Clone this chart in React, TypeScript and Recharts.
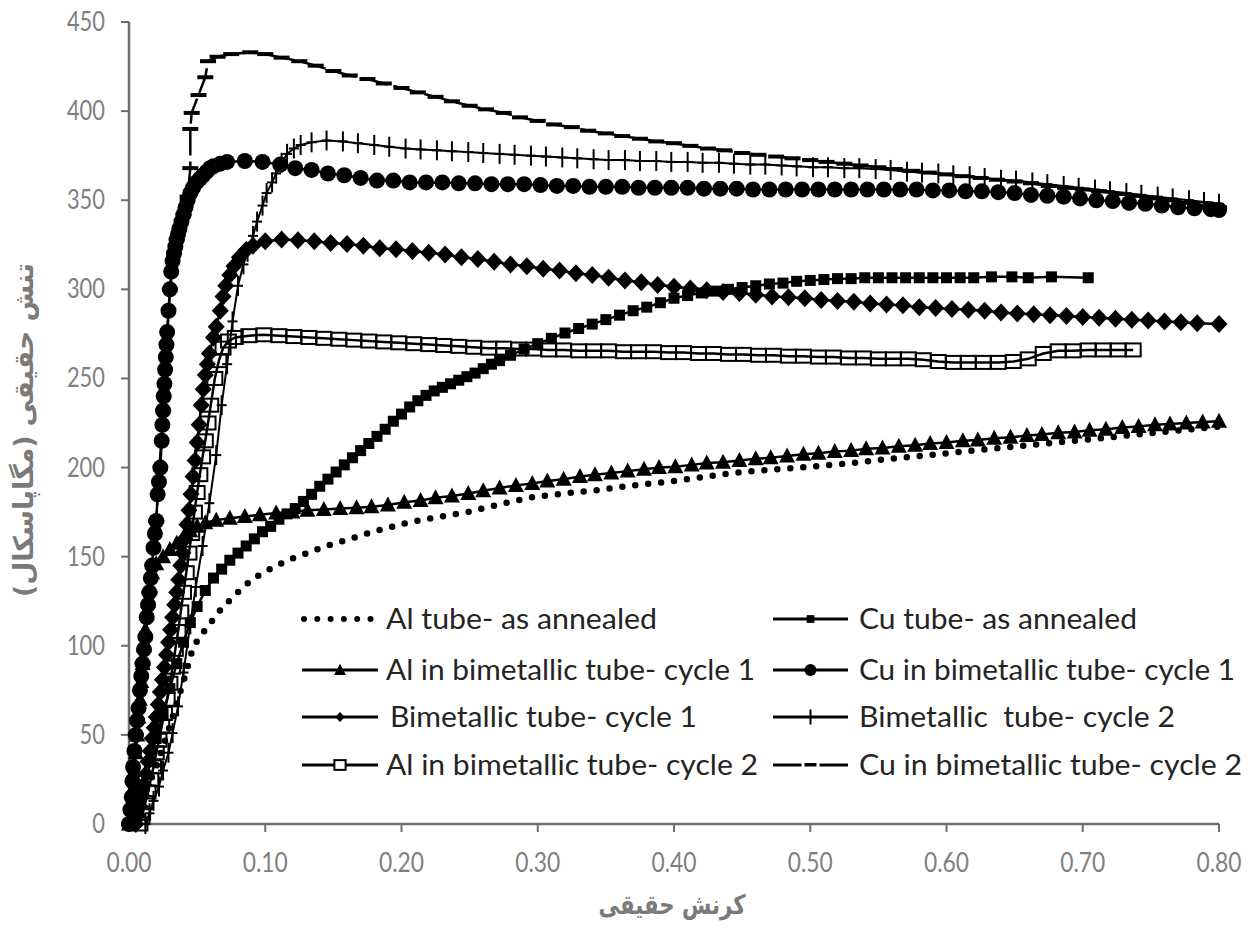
import React from 'react';
import { LineChart, Line, XAxis, YAxis, Legend } from 'recharts';

// ---------- data ----------
const strainTicks = [0, 0.1, 0.2, 0.3, 0.4, 0.5, 0.6, 0.7, 0.8];
const stressTicks = [0, 50, 100, 150, 200, 250, 300, 350, 400, 450];

const xTitle = 'کرنش حقیقی';
const yTitle = 'تنش حقیقی (مگاپاسکال)\u200F';

const seriesNames = [
  'Al tube- as annealed',
  'Cu tube- as annealed',
  'Al in bimetallic tube- cycle 1',
  'Cu in bimetallic tube- cycle 1',
  'Bimetallic tube- cycle 1',
  'Bimetallic  tube- cycle 2',
  'Al in bimetallic tube- cycle 2',
  'Cu in bimetallic tube- cycle 2',
];

const alTubeAnnealed = [
  [0, 0], [0.01, 14], [0.02, 32], [0.03, 55], [0.04, 80], [0.047, 99], [0.052, 105], [0.06, 113],
  [0.067, 120], [0.077, 128], [0.087, 135], [0.096, 140], [0.106, 144], [0.118, 148.5], [0.131, 152],
  [0.145, 156], [0.16, 159.5], [0.175, 163], [0.189, 166], [0.204, 169], [0.225, 172], [0.248, 175],
  [0.27, 179], [0.297, 183.5], [0.32, 185.5], [0.346, 187.5], [0.37, 190], [0.395, 192], [0.42, 194.5],
  [0.443, 197], [0.467, 198.5], [0.492, 200], [0.524, 202], [0.56, 205], [0.6, 208], [0.64, 211],
  [0.68, 214], [0.72, 217], [0.76, 220], [0.8, 223],
];

const cuTubeAnnealed = [
  [0, 0], [0.005, 10], [0.01, 22], [0.015, 35], [0.02, 48], [0.025, 62], [0.03, 76], [0.035, 90],
  [0.04, 102], [0.045, 113], [0.05, 122], [0.056, 131], [0.062, 138], [0.068, 143], [0.074, 148],
  [0.08, 152], [0.086, 156], [0.092, 160], [0.098, 164], [0.104, 167], [0.11, 171], [0.116, 174],
  [0.122, 177], [0.128, 181], [0.134, 185], [0.14, 189.5], [0.146, 193.5], [0.152, 197.5], [0.158, 201.5],
  [0.164, 205.5], [0.17, 209.5], [0.176, 213.5], [0.182, 217.5], [0.188, 221.5], [0.194, 226], [0.2, 230],
  [0.206, 234], [0.212, 237.5], [0.218, 240.5], [0.224, 243], [0.23, 245], [0.236, 247], [0.242, 249],
  [0.248, 251], [0.254, 253], [0.26, 255.5], [0.266, 258], [0.272, 260], [0.28, 263], [0.29, 266.5],
  [0.3, 269.5], [0.31, 272.5], [0.32, 275.5], [0.33, 278], [0.34, 280.5], [0.35, 283], [0.36, 285.5],
  [0.37, 288], [0.38, 290], [0.39, 292.5], [0.4, 295], [0.41, 296.5], [0.42, 298], [0.43, 299],
  [0.44, 300], [0.45, 301], [0.46, 302], [0.47, 303], [0.48, 303.5], [0.49, 304.5], [0.5, 305],
  [0.51, 305.5], [0.52, 306], [0.53, 306], [0.54, 306.5], [0.55, 306.5], [0.56, 306.5], [0.57, 306.5],
  [0.58, 306.5], [0.59, 306.5], [0.6, 306.5], [0.61, 306.5], [0.62, 306.5], [0.633, 307], [0.648, 307],
  [0.66, 306.5], [0.677, 307], [0.704, 306.5],
];

const alBimCycle1 = [
  [0, 0], [0.002, 10], [0.003, 20], [0.004, 30], [0.005, 40], [0.006, 50], [0.007, 60], [0.008, 70],
  [0.009, 80], [0.01, 90], [0.011, 100], [0.012, 109], [0.013, 118], [0.014, 125], [0.015, 132],
  [0.017, 141], [0.02, 146], [0.025, 150], [0.03, 154], [0.035, 157.5], [0.04, 161], [0.045, 164.5],
  [0.05, 167], [0.056, 169], [0.064, 170.5], [0.074, 171.5], [0.085, 172.5], [0.096, 173.5],
  [0.108, 174.5], [0.12, 175], [0.131, 176], [0.143, 176.5], [0.155, 177], [0.167, 177.5], [0.178, 178],
  [0.19, 179], [0.202, 180.5], [0.214, 181.5], [0.225, 183], [0.237, 184], [0.249, 185.5], [0.26, 187],
  [0.272, 188.5], [0.284, 190], [0.296, 191], [0.307, 192.5], [0.319, 193.5], [0.331, 195], [0.342, 196],
  [0.354, 197], [0.366, 198], [0.378, 199], [0.389, 200], [0.401, 200.5], [0.413, 201.5], [0.424, 202.5],
  [0.436, 203], [0.448, 204], [0.46, 205], [0.471, 205.5], [0.483, 206.5], [0.495, 207.5], [0.506, 208],
  [0.518, 209], [0.53, 209.5], [0.541, 210.5], [0.553, 211], [0.565, 212], [0.577, 212.5], [0.588, 213.5],
  [0.6, 214], [0.612, 215], [0.623, 215.5], [0.635, 216.5], [0.647, 217], [0.659, 218], [0.67, 218.5],
  [0.682, 219.5], [0.694, 220], [0.705, 221], [0.717, 221.5], [0.729, 222.5], [0.741, 223], [0.753, 224],
  [0.764, 224.5], [0.776, 225], [0.788, 225.5], [0.8, 226],
];

const cuBimCycle1 = [
  [0, 0], [0.001, 8], [0.002, 15], [0.0025, 24], [0.003, 32], [0.004, 41], [0.005, 50], [0.006, 58],
  [0.007, 65], [0.008, 75], [0.009, 83], [0.01, 90], [0.011, 98], [0.012, 105], [0.013, 116], [0.014, 123],
  [0.015, 130], [0.016, 138], [0.017, 145], [0.018, 155], [0.019, 163], [0.02, 170], [0.021, 185],
  [0.022, 192], [0.023, 200], [0.024, 215], [0.0245, 224], [0.025, 232], [0.0255, 240], [0.026, 247],
  [0.0265, 255], [0.027, 262], [0.0275, 269], [0.028, 276], [0.029, 288], [0.03, 300], [0.031, 310],
  [0.032, 316], [0.033, 320], [0.034, 324], [0.035, 328], [0.036, 331], [0.037, 334], [0.0385, 338],
  [0.04, 342], [0.0415, 346], [0.043, 350], [0.045, 354], [0.047, 357], [0.0495, 360], [0.052, 362],
  [0.0545, 364], [0.057, 366], [0.0595, 368], [0.062, 369], [0.067, 370.5], [0.072, 371.5], [0.085, 372],
  [0.098, 371.5], [0.111, 370],
  [0.122, 368], [0.134, 367], [0.146, 365], [0.158, 364], [0.17, 362.5], [0.182, 361], [0.194, 361],
  [0.206, 360], [0.218, 360], [0.23, 360], [0.242, 359.5], [0.254, 359.5], [0.266, 359], [0.278, 359],
  [0.29, 359], [0.302, 358.5], [0.314, 358], [0.326, 358], [0.338, 357.5], [0.35, 357.5], [0.362, 357.5],
  [0.374, 357], [0.386, 357], [0.398, 357], [0.41, 357], [0.422, 356.5], [0.434, 356.5], [0.446, 356.5],
  [0.458, 356], [0.47, 356], [0.482, 356], [0.494, 356], [0.506, 356], [0.518, 356], [0.53, 356],
  [0.542, 356], [0.554, 356], [0.566, 356], [0.578, 356], [0.59, 355.5], [0.602, 355.5], [0.614, 355],
  [0.626, 355], [0.638, 354.5], [0.65, 354], [0.662, 353], [0.674, 352.5], [0.686, 352], [0.698, 351],
  [0.71, 350], [0.722, 349.5], [0.734, 348.5], [0.746, 348], [0.758, 347], [0.77, 346], [0.782, 345.5],
  [0.794, 345], [0.8, 344.5],
];

const bimCycle1 = [
  [0.005, 0], [0.0065, 5], [0.008, 10], [0.0095, 16], [0.011, 22], [0.0125, 28], [0.014, 35], [0.0155, 41],
  [0.017, 48], [0.0185, 54], [0.02, 60], [0.0215, 67], [0.023, 74], [0.0245, 81], [0.026, 88], [0.0275, 95],
  [0.029, 102], [0.0305, 109], [0.032, 116], [0.0335, 123], [0.035, 130], [0.0365, 137], [0.038, 145],
  [0.0395, 152], [0.041, 160], [0.0425, 168], [0.044, 176], [0.0455, 185], [0.047, 195], [0.0485, 204],
  [0.05, 214], [0.0515, 224], [0.053, 235], [0.0545, 244], [0.056, 252], [0.0575, 258], [0.059, 264],
  [0.062, 273], [0.064, 279], [0.067, 288], [0.069, 296], [0.071, 302], [0.074, 308], [0.077, 313],
  [0.081, 318], [0.086, 322], [0.091, 324.5],
  [0.1, 327], [0.112, 328], [0.124, 327.5], [0.136, 327], [0.148, 326], [0.16, 325.5], [0.172, 324.5],
  [0.184, 323], [0.196, 322.5], [0.208, 321.5], [0.22, 320.5], [0.232, 319.5], [0.244, 318], [0.256, 317],
  [0.268, 315.5], [0.28, 314], [0.292, 313], [0.304, 311.5], [0.316, 310.5], [0.328, 309], [0.34, 308],
  [0.352, 306.5], [0.364, 305], [0.376, 304], [0.388, 302.5], [0.4, 301.5], [0.412, 300.5], [0.424, 299.5],
  [0.436, 298.5], [0.448, 298], [0.46, 297], [0.472, 296], [0.484, 295.5], [0.496, 295], [0.508, 294],
  [0.52, 293.5], [0.532, 293], [0.544, 292], [0.556, 291.5], [0.568, 291], [0.58, 290], [0.592, 289.5],
  [0.604, 289], [0.616, 288.5], [0.628, 288], [0.64, 287], [0.652, 286.5], [0.664, 286], [0.676, 285.5],
  [0.688, 285], [0.7, 284.5], [0.712, 284], [0.724, 283.5], [0.736, 283], [0.748, 282.5], [0.76, 282],
  [0.772, 281.5], [0.784, 281], [0.8, 280.5],
];

const bimCycle2 = [
  [0.012, 0], [0.015, 6], [0.018, 13], [0.022, 21], [0.025, 30], [0.029, 40], [0.032, 51], [0.036, 66],
  [0.04, 85], [0.045, 112], [0.049, 133], [0.054, 156], [0.059, 180], [0.064, 207], [0.068, 235],
  [0.072, 258], [0.076, 282], [0.08, 302], [0.084, 314], [0.087, 321], [0.091, 330], [0.094, 338],
  [0.098, 347], [0.101, 354], [0.105, 360], [0.108, 365], [0.112, 371], [0.116, 376], [0.121, 379],
  [0.126, 381], [0.134, 382.5], [0.145, 383.5], [0.157, 383], [0.168, 382], [0.18, 381], [0.191, 380],
  [0.203, 379], [0.214, 378.5], [0.226, 378], [0.237, 377.5], [0.249, 377], [0.26, 376.5], [0.272, 376],
  [0.283, 375.5], [0.295, 375], [0.306, 374.5], [0.318, 374], [0.329, 373.5], [0.341, 373], [0.352, 372.5],
  [0.364, 372.5], [0.375, 372], [0.387, 372], [0.398, 371.5], [0.41, 371.5], [0.421, 371], [0.433, 371],
  [0.444, 370.5], [0.456, 370], [0.467, 370], [0.479, 369.5], [0.49, 369], [0.502, 368.5], [0.513, 368.5],
  [0.525, 368], [0.536, 368], [0.548, 367.5], [0.559, 367], [0.571, 366], [0.582, 365.5], [0.594, 365],
  [0.605, 364], [0.617, 363.5], [0.628, 362.5], [0.64, 361.5], [0.651, 361], [0.663, 360], [0.674, 359],
  [0.686, 358], [0.697, 357], [0.709, 356], [0.72, 355], [0.732, 354], [0.743, 353], [0.755, 352],
  [0.766, 351], [0.778, 350], [0.789, 349], [0.8, 348],
];

const alBimCycle2 = [
  [0.008, 0], [0.01, 6], [0.012, 12], [0.014, 18], [0.016, 25], [0.018, 32], [0.02, 40], [0.022, 47],
  [0.024, 55], [0.026, 62], [0.028, 70], [0.03, 79], [0.032, 88], [0.034, 98], [0.036, 108], [0.038, 119],
  [0.04, 130], [0.042, 141], [0.044, 152], [0.046, 163], [0.048, 175], [0.05, 186], [0.052, 196],
  [0.054, 206], [0.056, 215], [0.058, 225], [0.06, 235], [0.063, 250],
  [0.066, 260], [0.069, 267], [0.073, 271], [0.078, 273], [0.088, 274], [0.099, 274.5], [0.11, 274],
  [0.121, 273.5], [0.132, 273], [0.143, 272.5], [0.154, 272], [0.165, 271.5], [0.176, 271], [0.187, 270.5],
  [0.198, 270], [0.209, 269.5], [0.22, 269], [0.231, 268.5], [0.242, 268], [0.253, 267.5], [0.264, 267],
  [0.275, 267], [0.286, 266.5], [0.297, 266.5], [0.308, 266], [0.319, 266], [0.33, 265.5], [0.341, 265.5],
  [0.352, 265.5], [0.363, 265], [0.374, 265], [0.385, 265], [0.396, 264.5], [0.407, 264.5], [0.418, 264],
  [0.429, 264], [0.44, 263.5], [0.451, 263.5], [0.462, 263], [0.473, 263], [0.484, 262.5], [0.495, 262.5],
  [0.506, 262], [0.517, 262], [0.528, 261.5], [0.539, 261.5], [0.55, 261], [0.561, 261], [0.572, 261],
  [0.583, 260.5], [0.594, 259.5], [0.605, 259], [0.616, 259], [0.627, 259], [0.638, 259], [0.649, 259.5],
  [0.66, 261], [0.671, 264], [0.682, 265.5], [0.693, 265.5], [0.704, 266], [0.715, 266], [0.726, 266],
  [0.737, 266],
];

const cuBimCycle2 = [
  [0, 0], [0.005, 50], [0.01, 90], [0.015, 130], [0.02, 170], [0.025, 232], [0.03, 300], [0.035, 328],
  [0.04, 342], [0.043, 352], [0.045, 368], [0.045, 390], [0.046, 399], [0.051, 409], [0.056, 419],
  [0.058, 428], [0.065, 430.5], [0.075, 432], [0.089, 433], [0.1, 432], [0.112, 430], [0.125, 428],
  [0.137, 425.5], [0.15, 422.5], [0.162, 420], [0.175, 418], [0.187, 415.5], [0.2, 413], [0.212, 410.5],
  [0.225, 408], [0.237, 405.5], [0.25, 403], [0.262, 401], [0.275, 399], [0.287, 396.5], [0.3, 394.5],
  [0.312, 392.5], [0.325, 391], [0.337, 389], [0.35, 387.5], [0.362, 386], [0.375, 384.5], [0.387, 383],
  [0.4, 382], [0.412, 380.5], [0.425, 379], [0.437, 378], [0.45, 376.5], [0.462, 375.5], [0.475, 374.5],
  [0.487, 373.5], [0.5, 372.5], [0.512, 371.5], [0.525, 370.5], [0.537, 369.5], [0.55, 368.5], [0.562, 367.5],
  [0.575, 366.5], [0.587, 365.5], [0.6, 364.5], [0.612, 363.5], [0.625, 362.5], [0.637, 361.5], [0.65, 360.5],
  [0.662, 359.5], [0.675, 358], [0.687, 357], [0.7, 356], [0.712, 355], [0.725, 353.5], [0.737, 352.5],
  [0.75, 351], [0.762, 350], [0.775, 348.5], [0.787, 347], [0.8, 346],
];

// ---------- rendering helpers ----------
const toRows = (arr: number[][]) => arr.map(([x, y]) => ({ x, y }));

const INK = '#000';
const AXIS = '#6e6e6e';
const TICK_TEXT = '#7f7f7f';

type MarkerKind = 'dots' | 'fsquare' | 'triangle' | 'circle' | 'diamond' | 'plus' | 'osquare' | 'dash';

function markerShape(kind: MarkerKind, cx: number, cy: number, s: number, legend = false) {
  switch (kind) {
    case 'circle':
      return <circle cx={cx} cy={cy} r={8 * s} fill={INK} />;
    case 'diamond':
      return (
        <polygon
          points={`${cx},${cy - 9 * s} ${cx + 8.5 * s},${cy} ${cx},${cy + 9 * s} ${cx - 8.5 * s},${cy}`}
          fill={INK}
        />
      );
    case 'triangle':
      return (
        <polygon
          points={`${cx},${cy - 8.5 * s} ${cx + 8 * s},${cy + 6.5 * s} ${cx - 8 * s},${cy + 6.5 * s}`}
          fill={INK}
        />
      );
    case 'plus':
      return (
        <g stroke={INK} strokeWidth={2}>
          <line x1={cx} y1={cy - 10 * s} x2={cx} y2={cy + 10 * s} />
          <line x1={cx - 5 * s} y1={cy} x2={cx + 5 * s} y2={cy} />
        </g>
      );
    case 'osquare':
      return (
        <rect
          x={cx - 7.5 * s}
          y={cy - 6.5 * s}
          width={15 * s}
          height={13 * s}
          fill={legend ? '#fff' : 'none'}
          stroke={INK}
          strokeWidth={2}
        />
      );
    case 'fsquare':
      return <rect x={cx - 5.5 * s} y={cy - 5.5 * s} width={11 * s} height={11 * s} fill={INK} />;
    case 'dash':
      return <rect x={cx - 8 * s} y={cy - 2} width={16 * s} height={4} fill={INK} />;
    default:
      return null;
  }
}

const makeDot = (kind: MarkerKind) => (p: any) => {
  const key = `${kind}-${p.index}`;
  if (p.cx == null || p.cy == null) return <g key={key} />;
  return <g key={key}>{markerShape(kind, p.cx, p.cy, 1)}</g>;
};

const series: { name: string; data: number[][]; kind: MarkerKind }[] = [
  { name: seriesNames[0], data: alTubeAnnealed, kind: 'dots' },
  { name: seriesNames[1], data: cuTubeAnnealed, kind: 'fsquare' },
  { name: seriesNames[2], data: alBimCycle1, kind: 'triangle' },
  { name: seriesNames[3], data: cuBimCycle1, kind: 'circle' },
  { name: seriesNames[4], data: bimCycle1, kind: 'diamond' },
  { name: seriesNames[5], data: bimCycle2, kind: 'plus' },
  { name: seriesNames[6], data: alBimCycle2, kind: 'osquare' },
  { name: seriesNames[7], data: cuBimCycle2, kind: 'dash' },
];

// drawing order (Cu cycle 2 goes underneath so its rise hides behind the circles)
const drawOrder = [7, 0, 1, 2, 3, 4, 5, 6];

const charW = 12.7;
const dotW = 7;
const numWidth = (s: string) =>
  s.split('').reduce((a, c) => a + (c === '.' ? dotW : charW), 0);

const YTick = (p: any) => {
  const s = String(p.payload.value);
  return (
    <text
      x={p.x}
      y={p.y + 9}
      textAnchor="end"
      fontFamily="Lato, 'Open Sans', sans-serif"
      fontSize={26}
      fill={TICK_TEXT}
      textLength={numWidth(s)}
      lengthAdjust="spacingAndGlyphs"
    >
      {s}
    </text>
  );
};

const XTick = (p: any) => {
  const s = Number(p.payload.value).toFixed(2);
  return (
    <text
      x={p.x}
      y={p.y + 28}
      textAnchor="middle"
      fontFamily="Lato, 'Open Sans', sans-serif"
      fontSize={26}
      fill={TICK_TEXT}
      textLength={numWidth(s)}
      lengthAdjust="spacingAndGlyphs"
    >
      {s}
    </text>
  );
};

const XTitle = () => (
  <text
    x={672}
    y={914}
    textAnchor="middle"
    direction="rtl"
    fontFamily="'DejaVu Sans', sans-serif"
    fontWeight="bold"
    fontSize={27}
    fill="#7a7a7a"
    textLength={147}
    lengthAdjust="spacingAndGlyphs"
  >
    {xTitle}
  </text>
);

const YTitle = () => (
  <text
    x={0}
    y={0}
    transform="translate(33,430) rotate(-90)"
    textAnchor="middle"
    direction="rtl"
    fontFamily="'DejaVu Sans', sans-serif"
    fontWeight="bold"
    fontSize={27}
    fill="#7a7a7a"
    textLength={334}
    lengthAdjust="spacingAndGlyphs"
  >
    {yTitle}
  </text>
);

const legendRowsY = [619, 670, 717, 765];
const legendCols = [
  { x0: 302, x1: 378, tx: 386 },
  { x0: 773, x1: 848, tx: 859 },
];
const legendTextW = [271, 278, 369, 376, 307, 316, 372, 383];
const legendTextDx = [0, 0, 0, 0, 4, 0, 0, 0];

const legendSymbol = (kind: MarkerKind, x0: number, x1: number, y: number) => {
  const mid = (x0 + x1) / 2;
  if (kind === 'dots') {
    const pts = [0, 1, 2, 3, 4, 5].map((i) => x0 + 2 + i * 13.3);
    return pts.map((px, i) => <circle key={i} cx={px} cy={y} r={3} fill={INK} />);
  }
  if (kind === 'dash') {
    return (
      <g>
        <line x1={x0} y1={y} x2={mid - 9} y2={y} stroke={INK} strokeWidth={3} />
        <rect x={mid - 6} y={y - 2} width={12} height={3.5} fill={INK} />
        <line x1={mid + 9} y1={y} x2={x1} y2={y} stroke={INK} strokeWidth={3} />
      </g>
    );
  }
  const scale: Record<string, number> = {
    fsquare: 0.7,
    triangle: 0.75,
    circle: 0.75,
    diamond: 0.55,
    plus: 0.75,
    osquare: 0.75,
  };
  return (
    <g>
      <line x1={x0} y1={y} x2={x1} y2={y} stroke={INK} strokeWidth={3} />
      {markerShape(kind, mid, y, scale[kind] ?? 0.8, true)}
    </g>
  );
};

const LegendContent = () => (
  <svg width={1252} height={942} style={{ position: 'absolute', left: 0, top: 0 }}>
    {series.map((s, i) => {
      const col = legendCols[i % 2];
      const y = legendRowsY[Math.floor(i / 2)];
      return (
        <g key={s.name}>
          {legendSymbol(s.kind, col.x0, col.x1, y)}
          <text
            x={col.tx + legendTextDx[i]}
            y={y + 9.5}
            fontFamily="Lato, 'Open Sans', sans-serif"
            fontSize={28}
            fill="#242424"
            textLength={legendTextW[i]}
            lengthAdjust="spacingAndGlyphs"
            xmlSpace="preserve"
            style={{ whiteSpace: 'pre' }}
          >
            {s.name}
          </text>
        </g>
      );
    })}
  </svg>
);

export default function App() {
  return (
    <div style={{ position: 'absolute', left: 0, top: 0, width: 1252, height: 942, background: '#fff' }}>
      <LineChart width={1252} height={942} margin={{ top: 22, right: 33, bottom: 68, left: 0 }}>
        <XAxis
          type="number"
          dataKey="x"
          domain={[0, 0.8]}
          ticks={strainTicks}
          height={50}
          interval={0}
          axisLine={{ stroke: AXIS, strokeWidth: 2.5 }}
          tickLine={{ stroke: AXIS, strokeWidth: 2 }}
          tickSize={8}
          tickMargin={12}
          tick={<XTick />}
          label={{ content: () => <XTitle /> }}
        />
        <YAxis
          type="number"
          dataKey="y"
          domain={[0, 450]}
          ticks={stressTicks}
          width={129}
          interval={0}
          axisLine={{ stroke: AXIS, strokeWidth: 2.5 }}
          tickLine={{ stroke: AXIS, strokeWidth: 2 }}
          tickSize={8}
          tickMargin={16}
          tick={<YTick />}
          label={{ content: () => <YTitle /> }}
        />
        {drawOrder.map((idx) => {
          const s = series[idx];
          return s.kind === 'dots' ? (
            <Line
              key={s.name}
              name={s.name}
              data={toRows(s.data)}
              dataKey="y"
              type="linear"
              stroke={INK}
              strokeWidth={6.5}
              strokeDasharray="0 13"
              strokeLinecap="round"
              dot={false}
              activeDot={false}
              isAnimationActive={false}
            />
          ) : (
            <Line
              key={s.name}
              name={s.name}
              data={toRows(s.data)}
              dataKey="y"
              type="linear"
              stroke={INK}
              strokeWidth={s.kind === 'plus' ? 2 : 2.5}
              strokeDasharray={s.kind === 'dash' ? '26 6' : undefined}
              dot={makeDot(s.kind)}
              activeDot={false}
              isAnimationActive={false}
            />
          );
        })}
        <Legend
          layout="horizontal"
          verticalAlign="middle"
          align="center"
          wrapperStyle={{ position: 'absolute', left: 0, top: 0, width: 1252, height: 942, pointerEvents: 'none' }}
          content={() => <LegendContent />}
        />
      </LineChart>
    </div>
  );
}
